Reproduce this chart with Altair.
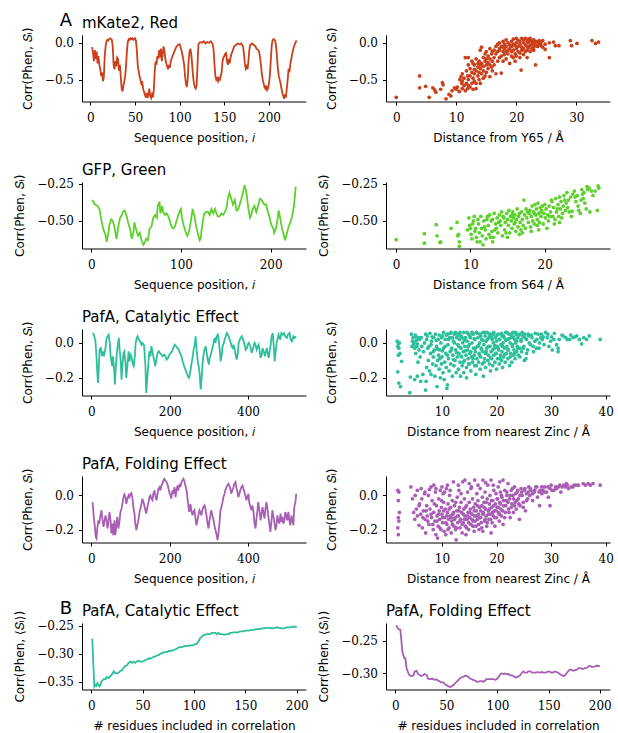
import altair as alt
import pandas as pd

# ---------------- data ----------------
mkate_seq = [(2,-0.06),(3,-0.15),(4,-0.25),(5,-0.10),(6,-0.22),(7,-0.12),(8,-0.28),(9,-0.18),(10,-0.30),(11,-0.35),(12,-0.45),(13,-0.40),(14,-0.52),(15,-0.48),(16,-0.20),(17,-0.05),(18,0.02),(19,0.04),(20,0.03),(21,0.05),(22,0.06),(23,0.05),(24,0.04),(25,-0.05),(26,-0.30),(27,-0.36),(28,-0.25),(29,-0.32),(30,-0.20),(31,-0.22),(32,-0.38),(33,-0.30),(34,-0.45),(35,-0.62),(36,-0.66),(37,-0.58),(38,-0.52),(39,-0.45),(40,-0.30),(41,-0.10),(42,0.02),(43,0.05),(44,0.04),(45,0.06),(46,0.05),(47,0.06),(48,0.04),(49,0.05),(50,0.06),(51,0.03),(52,-0.10),(53,-0.30),(54,-0.38),(55,-0.45),(56,-0.50),(57,-0.55),(58,-0.52),(59,-0.62),(60,-0.66),(61,-0.70),(62,-0.74),(63,-0.68),(64,-0.75),(65,-0.70),(66,-0.62),(67,-0.72),(68,-0.75),(69,-0.70),(70,-0.74),(71,-0.65),(72,-0.40),(73,-0.25),(74,-0.30),(75,-0.18),(76,-0.22),(77,-0.10),(78,-0.20),(79,-0.08),(80,-0.25),(81,-0.15),(82,-0.05),(83,-0.12),(84,-0.22),(85,-0.28),(86,-0.32),(87,-0.36),(88,-0.30),(89,-0.34),(90,-0.25),(92,-0.18),(94,-0.12),(96,-0.06),(98,-0.03),(100,-0.02),(102,-0.10),(104,-0.22),(105,-0.30),(106,-0.45),(107,-0.55),(108,-0.60),(109,-0.50),(110,-0.25),(111,-0.12),(112,-0.08),(113,-0.15),(114,-0.30),(115,-0.45),(116,-0.55),(117,-0.60),(118,-0.62),(119,-0.58),(120,-0.30),(121,-0.02),(123,0.01),(125,0.00),(127,0.02),(129,-0.01),(131,0.01),(133,0.00),(135,0.02),(137,-0.02),(138,-0.10),(139,-0.30),(140,-0.45),(141,-0.50),(142,-0.48),(143,-0.52),(144,-0.48),(145,-0.50),(146,-0.45),(147,-0.40),(148,-0.25),(149,-0.20),(150,-0.18),(151,-0.15),(152,-0.14),(153,-0.25),(154,-0.30),(155,-0.22),(156,-0.28),(157,-0.20),(158,-0.15),(159,-0.12),(161,-0.05),(163,-0.03),(165,-0.01),(167,-0.02),(169,-0.01),(171,-0.05),(172,-0.15),(173,-0.28),(174,-0.35),(175,-0.32),(176,-0.36),(177,-0.25),(178,-0.10),(179,-0.03),(181,-0.01),(183,-0.03),(185,-0.05),(186,-0.08),(188,-0.10),(189,-0.12),(190,-0.20),(191,-0.30),(192,-0.42),(193,-0.50),(194,-0.55),(195,-0.60),(196,-0.62),(197,-0.58),(198,-0.64),(199,-0.62),(200,-0.55),(201,-0.45),(202,-0.25),(203,-0.05),(204,0.03),(205,0.05),(206,0.04),(207,0.03),(208,-0.05),(209,-0.20),(210,-0.35),(211,-0.45),(212,-0.50),(213,-0.55),(214,-0.62),(215,-0.68),(216,-0.72),(217,-0.76),(218,-0.70),(219,-0.74),(220,-0.62),(221,-0.50),(222,-0.35),(223,-0.40),(224,-0.28),(225,-0.22),(226,-0.15),(227,-0.10),(228,-0.05),(229,-0.02),(230,0.01),(231,0.03)]

mkate_dist = [(0,-0.74),(3.9,-0.45),(3.9,-0.61),(4.9,-0.59),(5.5,-0.74),(6.1,-0.61),(6.4,-0.64),(6.6,-0.67),(7.4,-0.63),(7.7,-0.54),(7.8,-0.57),(8.3,-0.76),(8.8,-0.70),(9.1,-0.72),(9.3,-0.65),(9.7,-0.61),(10.0,-0.63),(10.2,-0.60),(10.5,-0.66),(10.6,-0.50),(10.8,-0.46),(10.9,-0.55),(11.0,-0.42),(11.0,-0.62),(11.0,-0.52),(11.3,-0.58),(11.3,-0.48),(11.5,-0.20),(11.5,-0.65),(11.7,-0.55),(11.7,-0.38),(11.9,-0.62),(11.9,-0.45),(12.0,-0.20),(12.0,-0.30),(12.0,-0.50),(12.0,-0.58),(12.3,-0.35),(12.3,-0.45),(12.3,-0.60),(12.6,-0.25),(12.6,-0.55),(12.6,-0.40),(12.8,-0.28),(12.8,-0.48),(12.8,-0.63),(13.0,-0.30),(13.0,-0.42),(13.0,-0.52),(13.0,-0.36),(13.3,-0.22),(13.3,-0.38),(13.3,-0.55),(13.3,-0.62),(13.6,-0.28),(13.6,-0.45),(13.6,-0.33),(13.8,-0.25),(13.8,-0.50),(13.8,-0.40),(14.0,-0.10),(14.0,-0.35),(14.0,-0.55),(14.0,-0.30),(14.2,-0.06),(14.2,-0.28),(14.2,-0.42),(14.5,-0.20),(14.5,-0.32),(14.5,-0.48),(14.5,-0.38),(14.8,-0.15),(14.8,-0.25),(14.8,-0.45),(15.0,-0.12),(15.0,-0.30),(15.0,-0.40),(15.0,-0.22),(15.3,-0.18),(15.3,-0.35),(15.3,-0.27),(15.6,-0.08),(15.6,-0.22),(15.6,-0.46),(15.6,-0.30),(15.9,-0.15),(15.9,-0.33),(16.0,-0.12),(16.0,-0.25),(16.0,-0.38),(16.3,-0.20),(16.3,-0.10),(16.3,-0.30),(16.6,-0.05),(16.6,-0.15),(16.6,-0.42),(16.9,-0.02),(16.9,-0.25),(16.9,-0.12),(17.2,0.00),(17.2,-0.10),(17.2,-0.20),(17.2,-0.08),(17.5,-0.05),(17.5,-0.18),(17.5,-0.41),(17.8,0.02),(17.8,-0.12),(17.8,-0.25),(17.8,-0.06),(18.0,-0.02),(18.0,-0.08),(18.0,-0.16),(18.3,0.04),(18.3,-0.05),(18.3,-0.22),(18.3,-0.12),(18.6,0.00),(18.6,-0.10),(18.6,-0.15),(18.9,-0.03),(18.9,-0.08),(18.9,-0.28),(19.2,0.02),(19.2,-0.05),(19.2,-0.18),(19.2,-0.12),(19.5,0.05),(19.5,-0.02),(19.5,-0.10),(19.5,-0.20),(19.8,-0.04),(19.8,-0.15),(19.8,-0.25),(20.0,0.06),(20.0,0.00),(20.0,-0.08),(20.0,-0.18),(20.3,0.03),(20.3,-0.05),(20.3,-0.12),(20.6,0.02),(20.6,-0.02),(20.6,-0.14),(20.6,-0.20),(20.8,-0.37),(20.9,0.06),(20.9,-0.06),(20.9,-0.10),(21.2,0.04),(21.2,0.00),(21.2,-0.08),(21.2,-0.16),(21.5,0.06),(21.5,-0.03),(21.5,-0.12),(21.8,0.02),(21.8,-0.05),(21.8,-0.10),(21.8,-0.20),(22.0,0.05),(22.0,0.00),(22.0,-0.07),(22.3,0.06),(22.3,0.03),(22.3,-0.04),(22.3,-0.12),(22.6,0.02),(22.6,-0.02),(22.6,-0.08),(22.9,0.04),(22.9,0.00),(22.9,-0.06),(22.9,-0.10),(23.2,0.02),(23.2,-0.03),(23.2,-0.30),(23.5,0.01),(23.5,-0.05),(23.8,0.03),(23.8,-0.02),(24.1,-0.04),(24.1,0.00),(24.4,0.03),(24.4,-0.06),(24.8,-0.02),(24.8,-0.09),(25.5,-0.20),(25.5,0.00),(26.2,0.01),(26.5,-0.04),(27.1,-0.04),(29.0,0.03),(29.2,-0.04),(30.1,-0.01),(32.6,0.03),(33.2,-0.01),(33.7,0.01)]

gfp_seq = [(1,-0.36),(4,-0.39),(7,-0.40),(9,-0.42),(11,-0.49),(13,-0.55),(16,-0.60),(17,-0.64),(19,-0.58),(20,-0.53),(22,-0.49),(24,-0.50),(26,-0.55),(28,-0.62),(30,-0.54),(32,-0.48),(34,-0.46),(35,-0.44),(37,-0.43),(39,-0.46),(41,-0.51),(43,-0.55),(45,-0.62),(47,-0.57),(48,-0.51),(50,-0.56),(52,-0.60),(54,-0.58),(56,-0.63),(58,-0.66),(60,-0.64),(61,-0.62),(63,-0.63),(65,-0.55),(67,-0.54),(69,-0.48),(71,-0.46),(73,-0.48),(74,-0.40),(76,-0.37),(77,-0.45),(79,-0.40),(80,-0.44),(82,-0.46),(84,-0.45),(86,-0.47),(87,-0.49),(89,-0.53),(91,-0.55),(93,-0.54),(95,-0.50),(97,-0.46),(99,-0.43),(100,-0.42),(101,-0.48),(103,-0.53),(105,-0.57),(107,-0.60),(109,-0.57),(111,-0.50),(112,-0.46),(113,-0.42),(115,-0.47),(117,-0.54),(119,-0.59),(121,-0.63),(122,-0.62),(123,-0.56),(125,-0.48),(126,-0.45),(128,-0.44),(130,-0.44),(132,-0.46),(134,-0.42),(136,-0.45),(138,-0.42),(139,-0.44),(141,-0.47),(143,-0.47),(145,-0.45),(147,-0.46),(149,-0.44),(151,-0.41),(152,-0.36),(154,-0.31),(156,-0.35),(158,-0.39),(160,-0.36),(162,-0.43),(164,-0.42),(165,-0.40),(167,-0.36),(169,-0.31),(171,-0.26),(173,-0.31),(175,-0.41),(177,-0.48),(178,-0.47),(180,-0.42),(182,-0.40),(184,-0.44),(186,-0.40),(188,-0.35),(190,-0.36),(191,-0.37),(193,-0.39),(195,-0.39),(197,-0.44),(199,-0.48),(201,-0.53),(203,-0.55),(204,-0.58),(206,-0.55),(208,-0.48),(209,-0.43),(211,-0.49),(213,-0.56),(215,-0.60),(216,-0.63),(218,-0.59),(220,-0.54),(222,-0.51),(223,-0.49),(224,-0.47),(226,-0.40),(227,-0.34),(228,-0.27)]

gfp_dist = [(0,-0.626),(3.8,-0.586),(3.8,-0.649),(5.4,-0.525),(5.5,-0.60),(5.9,-0.645),(6.0,-0.64),(7.4,-0.55),(8.2,-0.51),(8.3,-0.60),(8.4,-0.59),(8.5,-0.64),(8.5,-0.67),(9.8,-0.48),(9.9,-0.53),(10.0,-0.55),(10.1,-0.59),(10.2,-0.62),(10.4,-0.50),(10.5,-0.47),(10.6,-0.57),(10.8,-0.61),(10.9,-0.64),(11.0,-0.49),(11.1,-0.52),(11.2,-0.58),(11.3,-0.64),(11.5,-0.55),(11.6,-0.60),(11.8,-0.50),(12.0,-0.56),(12.1,-0.62),(12.3,-0.47),(12.4,-0.53),(12.5,-0.59),(12.6,-0.46),(12.8,-0.50),(12.9,-0.57),(13.0,-0.49),(13.1,-0.61),(13.2,-0.45),(13.4,-0.52),(13.5,-0.55),(13.6,-0.48),(13.7,-0.58),(13.9,-0.46),(14.0,-0.50),(14.1,-0.53),(14.2,-0.44),(14.3,-0.60),(14.5,-0.48),(14.6,-0.56),(14.7,-0.51),(14.9,-0.45),(15.0,-0.49),(15.1,-0.53),(15.2,-0.43),(15.3,-0.58),(15.4,-0.47),(15.5,-0.50),(15.6,-0.55),(15.7,-0.44),(15.8,-0.48),(15.9,-0.52),(16.0,-0.46),(16.1,-0.57),(16.2,-0.49),(16.3,-0.42),(16.4,-0.54),(16.5,-0.47),(16.6,-0.45),(16.7,-0.51),(16.8,-0.56),(16.9,-0.44),(17.0,-0.49),(17.1,-0.53),(17.2,-0.36),(17.3,-0.46),(17.4,-0.55),(17.5,-0.42),(17.6,-0.48),(17.8,-0.51),(17.9,-0.45),(18.0,-0.43),(18.1,-0.54),(18.2,-0.47),(18.3,-0.40),(18.4,-0.50),(18.5,-0.44),(18.6,-0.52),(18.7,-0.39),(18.8,-0.46),(18.9,-0.42),(19.0,-0.49),(19.1,-0.38),(19.2,-0.45),(19.3,-0.51),(19.4,-0.41),(19.5,-0.47),(19.6,-0.43),(19.7,-0.40),(19.8,-0.52),(19.9,-0.45),(20.0,-0.39),(20.1,-0.48),(20.2,-0.42),(20.4,-0.46),(20.5,-0.50),(20.6,-0.40),(20.8,-0.44),(21.0,-0.37),(21.1,-0.47),(21.2,-0.41),(21.4,-0.49),(21.5,-0.35),(21.6,-0.44),(21.8,-0.39),(21.9,-0.47),(22.0,-0.34),(22.1,-0.42),(22.2,-0.37),(22.4,-0.45),(22.5,-0.40),(22.6,-0.33),(22.8,-0.43),(22.9,-0.38),(23.0,-0.31),(23.2,-0.36),(23.3,-0.44),(23.5,-0.34),(23.7,-0.435),(23.8,-0.32),(24.0,-0.30),(24.2,-0.37),(24.4,-0.33),(24.6,-0.43),(24.8,-0.45),(24.9,-0.36),(25.0,-0.29),(25.1,-0.32),(25.2,-0.35),(25.4,-0.38),(25.7,-0.27),(25.8,-0.29),(26.1,-0.44),(26.3,-0.30),(26.5,-0.33),(27.1,-0.43),(27.2,-0.265),(27.3,-0.28),
            (10.3,-0.52),(10.7,-0.55),(11.4,-0.47),(11.9,-0.54),(12.2,-0.49),(12.7,-0.61),(13.3,-0.56),(13.8,-0.51),(14.4,-0.47),(14.8,-0.58),(15.6,-0.46),(16.0,-0.51),(16.6,-0.59),(17.7,-0.44),(18.2,-0.57),(18.6,-0.45),(19.0,-0.53),(19.5,-0.44),(20.3,-0.55),(20.7,-0.47),(21.3,-0.52),(21.7,-0.42),(22.3,-0.48),(22.7,-0.36),(23.1,-0.41),(23.6,-0.47),(24.1,-0.34),(24.5,-0.40),(25.3,-0.31),(25.6,-0.42),(26.0,-0.28),(26.8,-0.30),(22.0,-0.51),(20.9,-0.36),(19.2,-0.56),(17.0,-0.58),(15.0,-0.61),(13.0,-0.64),(11.7,-0.66),(9.6,-0.56)]

pafa_cat_seq = [(3,0.057),(6,0.048),(10,0.019),(13,-0.076),(15,-0.171),(17,-0.229),(19,-0.133),(21,-0.038),(24,-0.029),(27,-0.076),(30,-0.048),(32,-0.076),(36,-0.029),(38,0.019),(41,0.038),(44,0.048),(47,0.0),(49,-0.076),(53,-0.133),(55,-0.076),(58,-0.152),(60,-0.238),(62,-0.152),(65,-0.057),(67,-0.019),(70,0.029),(72,-0.038),(75,-0.105),(77,-0.21),(79,-0.133),(82,-0.057),(84,-0.048),(87,-0.114),(89,-0.2),(92,-0.124),(95,-0.048),(97,-0.105),(100,-0.067),(102,-0.076),(106,-0.124),(108,-0.133),(111,-0.076),(113,0.0),(116,0.029),(118,0.038),(121,0.019),(124,0.01),(128,-0.01),(130,0.0),(134,-0.01),(135,-0.029),(138,-0.133),(140,-0.286),(143,-0.19),(146,-0.105),(148,-0.048),(151,-0.076),(153,-0.019),(156,-0.048),(158,-0.076),(161,-0.105),(163,-0.133),(166,-0.095),(169,-0.057),(172,-0.048),(175,-0.057),(179,-0.067),(182,-0.076),(186,-0.067),(189,-0.076),(192,-0.095),(196,-0.086),(199,-0.067),(203,-0.057),(206,-0.048),(209,-0.029),(213,-0.01),(216,-0.019),(220,-0.029),(223,-0.038),(226,-0.057),(230,-0.076),(233,-0.105),(237,-0.133),(240,-0.152),(243,-0.171),(246,-0.19),(249,-0.2),(251,-0.181),(254,-0.143),(256,-0.114),(259,-0.076),(261,-0.038),(264,-0.01),(266,0.038),(269,-0.048),(272,-0.114),(274,-0.133),(277,-0.19),(279,-0.267),(282,-0.19),(284,-0.114),(287,-0.057),(289,-0.038),(292,-0.019),(295,-0.067),(297,-0.095),(300,-0.124),(302,-0.086),(305,-0.067),(307,-0.048),(310,-0.019),(312,0.0),(315,0.029),(317,0.0),(320,0.038),(323,0.048),(325,0.019),(328,-0.048),(330,-0.105),(333,-0.067),(335,-0.019),(338,0.0),(340,0.019),(343,0.038),(346,0.057),(348,0.048),(351,0.038),(353,0.019),(356,0.0),(358,-0.019),(361,-0.029),(363,-0.01),(366,-0.038),(369,-0.076),(371,-0.095),(374,-0.057),(376,0.0),(379,0.019),(381,0.029),(384,0.038),(386,0.029),(389,0.01),(392,-0.019),(394,-0.038),(397,-0.029),(399,-0.01),(402,0.0),(404,-0.01),(407,-0.029),(409,-0.057),(412,-0.038),(415,-0.01),(417,0.0),(420,-0.019),(422,-0.038),(425,-0.019),(427,-0.01),(430,-0.048),(432,-0.086),(435,-0.067),(437,-0.029),(440,-0.048),(443,-0.076),(445,-0.057),(448,-0.029),(450,-0.057),(453,-0.086),(455,-0.048),(458,-0.01),(460,0.038),(463,0.057),(466,-0.029),(468,-0.105),(471,-0.038),(473,0.0),(476,0.029),(478,0.048),(482,0.019),(485,0.057),(489,0.048),(492,0.057),(495,0.038),(499,0.029),(502,0.048),(506,0.057),(509,0.019),(512,0.01),(516,0.038),(519,0.029),(523,0.038)]

pafa_cat_dist = [(1.8,0.01),(2.0,-0.005),(2.2,0.0),(1.9,-0.02),(2.1,-0.03),(2.3,-0.06),(2.0,-0.07),(2.6,-0.105),(1.9,-0.165),(2.1,-0.23),(2.4,-0.25),(4.1,-0.285),(4.2,-0.195),(4.6,0.01),(4.8,-0.01),(5.0,-0.03),(5.2,0.035),(5.4,-0.02),(5.2,-0.06),(5.6,-0.11),(5.8,-0.04),(5.9,0.02),(5.0,-0.21),(5.5,-0.19),(6.0,-0.08),(6.2,0.03),(6.3,-0.02),(6.1,-0.22),(6.5,-0.18),(6.6,-0.05),(6.8,0.0),(7.0,-0.27),(7.1,-0.22),(7.2,-0.14),(7.3,0.04),(7.5,-0.10),(7.6,-0.02),(7.7,-0.16),(7.9,-0.06),(8.0,-0.18),(8.1,0.01),(8.3,-0.12),(8.4,-0.08),(8.5,0.03),(8.6,-0.04),(8.7,-0.19),(8.9,-0.13),(9.0,-0.02),(9.1,-0.25),(9.2,-0.10),(9.3,0.02),(9.4,-0.07),(9.5,-0.15),(9.6,-0.04),(9.8,0.0),(9.9,-0.12),(9.7,-0.20),(10.0,-0.08),(10.1,0.04),(10.2,-0.17),(10.3,-0.03),(10.4,-0.21),(10.5,-0.11),(10.6,0.02),(10.7,-0.06),(10.8,-0.14),(10.9,-0.26),(11.0,-0.24),(11.0,0.05),(11.1,-0.01),(11.2,-0.09),(11.3,-0.16),(11.4,0.03),(11.5,-0.05),(11.6,-0.12),(11.7,0.06),(11.8,-0.03),(11.9,-0.19),(12.0,-0.07),(12.1,0.01),(12.2,-0.13),(12.3,0.05),(12.4,-0.10),(12.5,-0.04),(12.6,-0.17),(12.7,0.03),(12.8,-0.08),(12.9,-0.01),(13.0,0.05),(13.0,-0.15),(13.1,-0.06),(13.2,0.02),(13.3,-0.11),(13.4,-0.19),(13.5,-0.03),(13.5,0.04),(13.6,-0.08),(13.7,-0.13),(13.8,0.0),(13.9,-0.05),(14.0,-0.17),(14.0,0.06),(14.1,-0.10),(14.2,-0.02),(14.3,0.03),(14.4,-0.07),(14.5,-0.14),(14.5,-0.20),(14.6,0.01),(14.7,-0.04),(14.8,-0.09),(14.9,0.05),(15.0,-0.12),(15.0,-0.01),(15.1,-0.06),(15.2,0.03),(15.3,-0.16),(15.4,-0.08),(15.5,0.0),(15.6,-0.11),(15.7,0.05),(15.8,-0.03),(15.9,-0.07),(16.0,-0.13),(16.0,0.02),(16.1,-0.05),(16.2,-0.18),(16.3,0.06),(16.4,-0.09),(16.5,-0.02),(16.6,0.03),(16.7,-0.11),(16.8,-0.06),(16.9,0.0),(17.0,0.05),(17.0,-0.15),(17.1,-0.08),(17.2,-0.03),(17.3,0.02),(17.4,-0.12),(17.5,0.06),(17.5,-0.05),(17.6,-0.19),(17.7,-0.01),(17.8,-0.09),(17.9,0.04),(18.0,-0.14),(18.0,-0.06),(18.1,0.01),(18.2,-0.03),(18.3,0.06),(18.4,-0.10),(18.5,-0.07),(18.6,0.03),(18.7,-0.12),(18.8,-0.02),(18.9,-0.16),(18.9,0.05),(19.0,-0.05),(19.1,-0.09),(19.2,0.02),(19.3,-0.13),(19.4,0.0),(19.5,0.05),(19.5,-0.07),(19.6,-0.03),(19.7,-0.11),(19.8,0.03),(19.9,-0.06),(20.0,-0.15),(20.0,0.01),(20.1,-0.02),(20.2,-0.09),(20.3,0.05),(20.4,-0.04),(20.5,-0.12),(20.6,0.02),(20.7,-0.07),(20.8,-0.01),(20.9,-0.10),(21.0,0.04),(21.0,-0.05),(21.1,-0.14),(21.2,0.0),(21.3,-0.08),(21.4,0.03),(21.5,-0.03),(21.6,-0.11),(21.7,0.06),(21.8,-0.06),(21.9,-0.02),(22.0,0.02),(22.1,-0.09),(22.2,-0.04),(22.3,0.05),(22.4,-0.13),(22.5,0.0),(22.6,-0.06),(22.7,0.03),(22.8,-0.11),(22.9,-0.02),(23.0,0.06),(23.1,-0.07),(23.2,-0.04),(23.3,0.02),(23.4,-0.09),(23.5,0.0),(23.6,0.05),(23.7,-0.05),(23.8,-0.02),(23.9,0.03),(24.0,-0.07),(24.2,0.05),(24.3,-0.03),(24.5,0.01),(24.6,-0.05),(24.8,0.04),(25.0,-0.02),(25.1,-0.10),(25.2,0.05),(25.4,-0.09),(25.5,0.02),(25.7,-0.04),(25.9,0.04),(26.2,-0.01),(26.5,0.03),(26.8,-0.05),(27.0,0.01),(27.3,-0.03),(27.6,0.05),(27.9,0.0),(28.1,0.03),(28.4,0.02),(28.7,-0.01),(29.0,0.06),(29.3,0.03),(29.6,-0.02),(29.9,0.01),(30.2,-0.04),(30.5,0.02),(31.0,-0.01),(31.3,-0.05),(31.3,-0.03),(31.5,0.02),(32.2,0.04),(32.7,0.03),(33.0,0.02),(33.4,0.02),(34.0,0.03),(34.7,0.04),(35.2,0.02),(35.6,-0.005),(36.5,0.02),(37.0,0.04),(39.0,0.02),
                 (4.4,0.05),(4.7,0.03),(4.9,0.0),(5.1,0.045),(5.3,0.015),(5.5,-0.005),(5.7,0.03),(4.5,-0.02),(7.0,0.05),(7.2,0.02),(7.4,-0.03),(7.8,0.055),(8.0,-0.01),(8.2,0.035),(8.4,-0.05),(8.8,0.05),(9.0,0.015),(9.2,-0.035),(9.5,0.045),(9.6,-0.09),(9.9,0.03),(10.1,-0.045),(10.3,0.06),(10.6,-0.02),(10.8,0.045),(11.0,-0.07),(11.2,0.02),(11.5,0.055),(11.7,-0.04),(11.9,0.03),(12.1,-0.095),(12.3,0.0),(12.5,0.06),(12.7,-0.055),(12.9,0.04),(13.1,-0.02),(13.3,0.06),(13.5,-0.075),(13.7,0.03),(13.9,-0.11),(14.1,0.015),(14.3,-0.045),(14.6,0.06),(14.8,-0.02),(14.9,-0.12),(15.1,0.04),(15.3,-0.05),(15.5,0.06),(15.7,-0.09),(15.9,0.025),(16.1,-0.03),(16.3,-0.13),(16.5,0.055),(16.7,-0.015),(16.9,-0.07),(17.1,0.04),(17.3,-0.04),(17.5,0.015),(17.7,-0.11),(17.9,0.06),(18.1,-0.05),(18.3,0.02),(18.5,-0.02),(18.7,0.05),(18.9,-0.085),(19.1,0.035),(19.3,-0.04),(19.5,0.06),(19.7,-0.015),(19.9,-0.06),(20.1,0.045),(20.3,-0.03),(20.5,0.02),(20.7,-0.09),(20.9,0.055),(21.1,-0.02),(21.3,0.04),(21.5,-0.065),(21.7,0.015),(21.9,0.06),(22.1,-0.04),(22.3,0.025),(22.5,-0.08),(22.7,0.05),(22.9,-0.01),(23.1,0.035),(23.3,-0.06),(23.5,0.06),(23.7,0.01),(23.9,-0.03),(24.1,0.045),(24.3,-0.08),(24.5,0.02),(24.7,0.06),(24.9,-0.03),(25.2,0.03),(25.5,-0.06),(25.8,0.05),(26.0,0.0),(26.4,0.045),(26.7,-0.02),(27.1,0.055),(27.4,0.02),(27.8,-0.03),(28.2,0.05),(28.6,0.035),(29.4,0.05),(30.1,0.035),(30.6,0.055),(32.0,0.045),(33.6,0.045),(34.4,0.035),(36.0,0.03)]

pafa_fold_seq = [(3,-0.039),(6,-0.126),(9,-0.184),(11,-0.243),(13,-0.252),(15,-0.194),(18,-0.146),(20,-0.165),(23,-0.117),(26,-0.087),(28,-0.136),(31,-0.184),(33,-0.155),(36,-0.117),(38,-0.136),(41,-0.194),(43,-0.165),(46,-0.097),(49,-0.146),(51,-0.223),(54,-0.165),(56,-0.233),(59,-0.146),(61,-0.233),(64,-0.175),(66,-0.126),(69,-0.194),(72,-0.146),(74,-0.097),(77,-0.078),(79,-0.049),(82,-0.01),(84,0.006),(87,-0.01),(89,-0.049),(92,-0.019),(95,0.0),(97,-0.01),(100,0.01),(102,0.014),(105,-0.019),(107,-0.068),(110,-0.107),(112,-0.165),(115,-0.204),(117,-0.175),(120,-0.146),(123,-0.097),(125,-0.078),(128,-0.049),(130,-0.019),(133,-0.039),(135,-0.058),(138,-0.087),(140,-0.107),(143,-0.068),(146,-0.039),(148,-0.01),(151,0.0),(153,-0.019),(156,-0.029),(158,0.01),(161,0.029),(163,0.0),(166,-0.029),(169,0.01),(171,0.039),(174,0.049),(176,0.029),(179,0.058),(181,0.068),(184,0.087),(186,0.097),(189,0.087),(192,0.078),(194,0.068),(197,0.039),(199,0.019),(202,0.0),(204,-0.019),(207,0.029),(209,0.01),(212,0.049),(215,-0.01),(217,0.029),(220,0.058),(222,0.029),(225,0.068),(227,0.049),(230,0.078),(232,0.087),(235,0.097),(237,0.087),(240,0.058),(243,0.029),(245,-0.01),(248,-0.068),(250,-0.097),(253,-0.049),(255,-0.087),(258,-0.117),(260,-0.097),(263,-0.087),(266,-0.136),(268,-0.175),(271,-0.146),(273,-0.117),(276,-0.087),(278,-0.097),(281,-0.117),(283,-0.087),(286,-0.068),(289,-0.058),(291,-0.078),(294,-0.117),(296,-0.155),(299,-0.194),(301,-0.155),(304,-0.117),(306,-0.087),(309,-0.117),(312,-0.146),(314,-0.175),(317,-0.204),(319,-0.223),(322,-0.262),(324,-0.233),(327,-0.165),(329,-0.097),(332,-0.068),(335,-0.039),(337,-0.01),(340,0.01),(342,0.029),(345,0.049),(347,0.058),(350,0.068),(352,0.058),(355,0.039),(357,0.01),(360,0.029),(363,0.049),(365,0.068),(368,0.078),(370,0.049),(373,0.019),(375,-0.01),(378,0.01),(380,0.029),(383,0.049),(386,0.058),(388,0.039),(391,0.019),(393,0.0),(396,-0.029),(398,-0.01),(401,0.01),(403,-0.039),(406,-0.068),(409,-0.087),(411,-0.058),(414,-0.097),(416,-0.155),(419,-0.194),(421,-0.146),(424,-0.087),(426,-0.039),(429,-0.087),(432,-0.146),(434,-0.117),(437,-0.068),(439,-0.097),(442,-0.136),(444,-0.087),(447,-0.039),(449,-0.068),(452,-0.126),(455,-0.175),(457,-0.214),(460,-0.146),(462,-0.087),(465,-0.126),(467,-0.155),(470,-0.204),(472,-0.184),(475,-0.117),(477,-0.146),(480,-0.165),(483,-0.107),(485,-0.155),(488,-0.126),(490,-0.165),(493,-0.146),(495,-0.097),(498,-0.117),(500,-0.146),(503,-0.097),(506,-0.155),(508,-0.175),(511,-0.117),(513,-0.146),(516,-0.175),(518,-0.068),(521,-0.039),(523,0.01)]

pafa_fold_dist = [(1.9,0.03),(2.1,0.02),(2.0,-0.03),(2.2,-0.1),(2.0,-0.13),(2.1,-0.15),(1.9,-0.19),(2.0,-0.23),(4.3,0.05),(4.6,-0.02),(4.8,-0.10),(5.0,-0.14),(5.1,0.0),(5.3,-0.08),(5.5,-0.12),(5.8,-0.175),(5.9,-0.05),(6.1,-0.11),(6.3,-0.02),(6.4,-0.19),(6.6,-0.09),(6.8,0.01),(6.9,-0.14),(7.0,-0.22),(7.2,-0.06),(7.3,-0.12),(7.5,0.0),(7.6,-0.17),(7.8,-0.08),(8.0,0.05),(8.1,-0.13),(8.2,-0.03),(8.4,-0.20),(8.5,-0.10),(8.7,-0.15),(8.8,0.02),(8.9,-0.23),(9.0,-0.06),(9.1,-0.12),(9.2,-0.25),(9.3,-0.18),(9.4,-0.02),(9.5,-0.09),(9.6,-0.14),(9.7,0.03),(9.8,-0.20),(9.9,-0.07),(10.0,-0.11),(10.1,-0.16),(10.2,0.01),(10.3,-0.04),(10.4,-0.21),(10.5,-0.13),(10.6,-0.08),(10.7,-0.23),(10.8,0.04),(10.9,-0.17),(11.0,-0.10),(11.1,-0.05),(11.2,-0.14),(11.3,-0.19),(11.4,0.0),(11.5,-0.12),(11.6,-0.07),(11.7,-0.22),(11.8,-0.15),(11.9,-0.03),(12.0,-0.11),(12.1,0.08),(12.2,-0.18),(12.3,-0.06),(12.4,-0.13),(12.5,-0.20),(12.6,-0.26),(12.7,-0.09),(12.8,-0.01),(12.9,-0.16),(13.0,-0.12),(13.1,0.03),(13.2,-0.07),(13.3,-0.19),(13.4,-0.14),(13.5,-0.04),(13.6,-0.10),(13.7,-0.22),(13.8,0.08),(13.9,-0.16),(14.0,-0.08),(14.1,-0.02),(14.2,-0.12),(14.3,-0.18),(14.4,-0.23),(14.5,-0.06),(14.6,-0.14),(14.7,0.02),(14.8,-0.10),(14.9,-0.20),(15.0,-0.04),(15.1,-0.13),(15.2,-0.08),(15.3,-0.17),(15.4,0.05),(15.5,-0.11),(15.6,-0.02),(15.7,-0.15),(15.8,-0.07),(15.9,-0.21),(16.0,0.09),(16.0,-0.12),(16.1,-0.05),(16.2,-0.18),(16.3,-0.09),(16.4,0.01),(16.5,-0.14),(16.6,-0.03),(16.7,-0.11),(16.8,-0.20),(16.9,-0.07),(17.0,0.04),(17.1,-0.13),(17.2,-0.16),(17.3,-0.06),(17.4,-0.01),(17.5,0.09),(17.5,-0.21),(17.6,-0.10),(17.7,-0.04),(17.8,-0.15),(17.9,0.02),(18.0,-0.08),(18.1,-0.12),(18.2,-0.18),(18.3,-0.02),(18.4,0.06),(18.5,-0.09),(18.6,-0.14),(18.7,-0.05),(18.8,0.0),(18.9,-0.11),(19.0,0.09),(19.0,-0.22),(19.1,-0.07),(19.2,-0.16),(19.3,-0.03),(19.4,-0.12),(19.5,0.03),(19.6,-0.09),(19.7,-0.18),(19.8,-0.05),(19.9,0.01),(20.0,-0.13),(20.1,-0.07),(20.2,-0.02),(20.3,0.05),(20.4,-0.10),(20.5,-0.15),(20.6,-0.04),(20.7,0.02),(20.8,-0.08),(20.9,-0.12),(21.0,-0.01),(21.2,0.09),(21.2,-0.17),(21.3,-0.06),(21.5,0.03),(21.6,-0.10),(21.8,-0.03),(21.9,0.0),(22.1,0.07),(22.2,-0.08),(22.4,-0.02),(22.5,-0.13),(22.7,0.03),(22.8,-0.05),(23.0,0.0),(23.1,-0.10),(23.3,0.05),(23.4,-0.04),(23.6,-0.08),(23.8,0.02),(24.0,-0.02),(24.2,-0.14),(24.3,-0.06),(24.5,0.04),(24.7,0.0),(24.9,-0.04),(25.1,0.03),(25.3,-0.09),(25.5,0.01),(25.7,-0.02),(25.9,0.05),(26.1,0.0),(26.3,0.03),(26.6,-0.03),(26.9,0.02),(27.2,0.05),(27.5,-0.01),(27.9,-0.06),(28.0,0.03),(28.3,0.01),(28.5,0.03),(28.8,0.05),(29.2,0.02),(29.5,-0.01),(29.8,0.04),(29.8,-0.06),(30.2,0.03),(30.8,0.05),(31.3,0.05),(31.8,0.02),(32.3,0.06),(32.8,0.07),(33.2,0.04),(33.7,0.05),(34.2,0.06),(35.0,0.06),(35.9,0.07),(36.8,0.07),(37.7,0.07),(39.0,0.06),
                  (5.5,0.03),(5.8,-0.06),(6.2,0.04),(6.5,-0.13),(6.9,0.02),(7.1,-0.09),(7.4,-0.15),(7.7,0.035),(8.0,-0.11),(8.3,-0.17),(8.6,-0.05),(8.9,0.04),(9.1,-0.15),(9.4,-0.11),(9.6,-0.19),(9.9,-0.03),(10.1,-0.13),(10.3,-0.09),(10.5,0.02),(10.7,-0.16),(10.9,-0.12),(11.1,-0.2),(11.3,-0.08),(11.5,0.03),(11.7,-0.13),(11.9,-0.17),(12.1,-0.1),(12.3,-0.14),(12.5,-0.04),(12.7,-0.19),(12.9,-0.12),(13.1,-0.09),(13.3,-0.15),(13.5,0.01),(13.7,-0.17),(13.9,-0.11),(14.1,-0.14),(14.3,-0.07),(14.5,-0.19),(14.7,-0.12),(14.9,-0.16),(15.1,-0.1),(15.3,0.04),(15.5,-0.14),(15.7,-0.18),(15.9,-0.09),(16.1,-0.15),(16.3,-0.12),(16.5,-0.06),(16.7,-0.17),(16.9,-0.13),(17.1,-0.09),(17.3,-0.19),(17.5,-0.11),(17.7,-0.07),(17.9,-0.14),(18.1,-0.04),(18.3,-0.16),(18.5,-0.11),(18.7,-0.08),(18.9,-0.14),(19.1,-0.03),(19.3,-0.1),(19.5,-0.06),(19.7,-0.13),(19.9,-0.09),(20.1,-0.02),(20.3,-0.07),(20.5,-0.11),(20.7,-0.05),(20.9,0.0),(21.1,-0.09),(21.3,-0.03),(21.5,-0.13),(21.7,-0.06),(21.9,0.02),(22.1,-0.04),(22.3,-0.1),(22.5,0.0),(22.7,-0.07),(22.9,0.04),(23.1,-0.02),(23.3,-0.06),(23.5,0.01),(23.7,-0.03),(23.9,0.03),(24.1,-0.05),(24.3,0.0),(24.6,0.02),(24.9,-0.07),(25.2,0.04),(25.5,-0.03),(25.8,0.02),(26.2,0.04),(26.6,0.01),(27.0,0.03),(27.4,0.05),(27.8,0.02),(28.3,0.05),(28.8,0.02),(29.4,0.05),(30.0,0.06),(30.5,0.03),(31.0,0.04),(31.6,0.06),(32.0,0.05),(32.6,0.05),(33.0,0.06),(34.0,0.05),(34.6,0.06),(36.3,0.06),(37.2,0.06),(13.0,0.06),(14.2,0.09),(15.0,0.07),(16.6,0.06),(18.0,0.075),(19.4,0.06),(20.6,0.08),(10.0,0.05),(11.0,0.06),(8.5,0.06)]

cat_cumulative = [(1,-0.273),(2,-0.317),(3,-0.358),(4,-0.355),(5,-0.357),(6,-0.352),(7,-0.355),(8,-0.358),(9,-0.355),(10,-0.349),(12,-0.345),(14,-0.345),(15,-0.341),(17,-0.343),(18,-0.341),(20,-0.337),(22,-0.331),(23,-0.334),(25,-0.335),(27,-0.333),(28,-0.331),(30,-0.329),(31,-0.326),(33,-0.322),(35,-0.320),(36,-0.317),(38,-0.314),(40,-0.316),(41,-0.314),(43,-0.316),(44,-0.314),(46,-0.312),(48,-0.314),(49,-0.314),(51,-0.313),(52,-0.312),(54,-0.310),(56,-0.308),(57,-0.309),(59,-0.307),(61,-0.305),(62,-0.305),(64,-0.303),(66,-0.302),(67,-0.300),(69,-0.299),(70,-0.298),(72,-0.297),(74,-0.297),(75,-0.295),(77,-0.295),(78,-0.294),(80,-0.294),(82,-0.292),(83,-0.291),(85,-0.289),(86,-0.288),(88,-0.288),(90,-0.287),(91,-0.286),(93,-0.286),(95,-0.286),(96,-0.285),(98,-0.285),(100,-0.284),(101,-0.283),(103,-0.282),(104,-0.279),(105,-0.276),(106,-0.272),(108,-0.269),(109,-0.267),(111,-0.266),(113,-0.265),(114,-0.265),(116,-0.265),(117,-0.263),(119,-0.263),(121,-0.263),(122,-0.265),(124,-0.263),(125,-0.265),(127,-0.265),(129,-0.266),(130,-0.266),(132,-0.265),(134,-0.265),(135,-0.263),(137,-0.263),(138,-0.262),(140,-0.262),(142,-0.262),(143,-0.262),(145,-0.260),(147,-0.260),(148,-0.260),(150,-0.259),(151,-0.259),(153,-0.259),(155,-0.258),(156,-0.258),(158,-0.257),(160,-0.257),(161,-0.256),(163,-0.256),(164,-0.256),(166,-0.255),(168,-0.255),(169,-0.254),(171,-0.254),(172,-0.254),(174,-0.254),(176,-0.255),(177,-0.254),(179,-0.254),(181,-0.253),(182,-0.254),(184,-0.254),(185,-0.255),(187,-0.255),(189,-0.254),(190,-0.253),(192,-0.253),(194,-0.253),(195,-0.252),(197,-0.252),(198,-0.252),(200,-0.252)]

fold_cumulative = [(1,-0.226),(2,-0.229),(3,-0.232),(5,-0.233),(6,-0.249),(7,-0.267),(8,-0.272),(9,-0.277),(10,-0.277),(11,-0.292),(13,-0.300),(14,-0.303),(16,-0.304),(18,-0.303),(19,-0.297),(21,-0.296),(22,-0.300),(24,-0.303),(26,-0.304),(27,-0.303),(29,-0.301),(31,-0.303),(32,-0.308),(34,-0.309),(36,-0.308),(37,-0.309),(39,-0.310),(40,-0.309),(42,-0.311),(44,-0.313),(45,-0.314),(47,-0.314),(49,-0.317),(50,-0.318),(52,-0.320),(54,-0.321),(55,-0.320),(57,-0.318),(58,-0.316),(60,-0.313),(62,-0.310),(63,-0.308),(65,-0.306),(67,-0.305),(68,-0.304),(70,-0.304),(72,-0.306),(73,-0.308),(75,-0.309),(76,-0.310),(78,-0.311),(80,-0.313),(81,-0.313),(83,-0.312),(85,-0.312),(86,-0.313),(88,-0.311),(89,-0.309),(91,-0.309),(93,-0.309),(94,-0.309),(96,-0.309),(98,-0.310),(99,-0.309),(101,-0.306),(103,-0.301),(104,-0.300),(106,-0.301),(107,-0.300),(109,-0.301),(111,-0.301),(112,-0.303),(114,-0.303),(116,-0.304),(117,-0.306),(119,-0.306),(121,-0.304),(122,-0.303),(124,-0.299),(125,-0.297),(127,-0.299),(129,-0.299),(130,-0.297),(132,-0.297),(134,-0.299),(135,-0.299),(137,-0.299),(139,-0.298),(140,-0.298),(142,-0.299),(143,-0.298),(145,-0.299),(147,-0.299),(148,-0.298),(150,-0.297),(152,-0.298),(153,-0.299),(155,-0.298),(156,-0.297),(158,-0.298),(160,-0.300),(161,-0.301),(163,-0.303),(165,-0.304),(166,-0.303),(168,-0.299),(170,-0.295),(171,-0.294),(173,-0.295),(174,-0.296),(176,-0.295),(178,-0.294),(179,-0.292),(181,-0.292),(183,-0.293),(184,-0.293),(186,-0.292),(188,-0.291),(189,-0.289),(191,-0.289),(192,-0.290),(194,-0.290),(196,-0.289),(197,-0.288),(199,-0.289),(200,-0.288)]

RED, GREEN, TEAL, PURPLE = "#c9401b", "#5dd12b", "#2dbf9c", "#a95eb5"
W, H = 224, 66.5
YT = "Corr(Phen, 𝑆ᵢ)"
YT5 = "Corr(Phen, ⟨𝑆ᵢ⟩)"
XSEQ = "Sequence position, 𝑖"


def label(text, size, xpx, ypx, align):
    return alt.Chart(pd.DataFrame({"t": [text]})).mark_text(
        font="DejaVu Sans", fontSize=size, align=align, baseline="alphabetic",
        color="black").encode(text="t:N", x=alt.value(xpx), y=alt.value(ypx))


def panel(pairs, kind, color, xdom, ydom, xticks, yticks, yfmt, xtitle, ytitle,
          title=None, letter=None):
    df = pd.DataFrame(pairs, columns=["x", "y"])
    base = alt.Chart(df)
    if kind == "line":
        mark = base.mark_line(color=color, strokeWidth=1.8)
    else:
        mark = base.mark_circle(color=color, size=14, opacity=1)
    ch = mark.encode(
        x=alt.X("x:Q", scale=alt.Scale(domain=xdom, nice=False, zero=False),
                axis=alt.Axis(values=xticks, format="d", title=xtitle)),
        y=alt.Y("y:Q", scale=alt.Scale(domain=ydom, nice=False, zero=False),
                axis=alt.Axis(values=yticks, format=yfmt, title=ytitle)),
    )
    layers = [ch]
    if title:
        layers.append(label(title, 15, 0, -7, "left"))
    if letter:
        layers.append(label(letter, 18, -16, -9, "center"))
    if len(layers) > 1:
        ch = alt.layer(*layers)
    return ch.properties(width=W, height=H)


panels = [
    panel(mkate_seq, "line", RED, [-9.4, 241.5], [-0.796, 0.105], [0, 50, 100, 150, 200],
          [0, -0.5], ".1f", XSEQ, YT, "mKate2, Red", "A"),
    panel(mkate_dist, "pt", RED, [-1.7, 35.6], [-0.796, 0.105], [0, 10, 20, 30],
          [0, -0.5], ".1f", "Distance from Y65 / Å", YT),
    panel(gfp_seq, "line", GREEN, [-10.5, 239.5], [-0.685, -0.239], [0, 100, 200],
          [-0.25, -0.5], ".2f", XSEQ, YT, "GFP, Green"),
    panel(gfp_dist, "pt", GREEN, [-1.37, 28.8], [-0.685, -0.239], [0, 10, 20],
          [-0.25, -0.5], ".2f", "Distance from S64 / Å", YT),
    panel(pafa_cat_seq, "line", TEAL, [-24, 548], [-0.301, 0.080], [0, 200, 400],
          [0, -0.2], ".1f", XSEQ, YT, "PafA, Catalytic Effect"),
    panel(pafa_cat_dist, "pt", TEAL, [-0.26, 40.8], [-0.301, 0.080], [10, 20, 30, 40],
          [0, -0.2], ".1f", "Distance from nearest Zinc / Å", YT),
    panel(pafa_fold_seq, "line", PURPLE, [-24, 548], [-0.276, 0.114], [0, 200, 400],
          [0, -0.2], ".1f", XSEQ, YT, "PafA, Folding Effect"),
    panel(pafa_fold_dist, "pt", PURPLE, [-0.26, 40.8], [-0.276, 0.114], [10, 20, 30, 40],
          [0, -0.2], ".1f", "Distance from nearest Zinc / Å", YT),
    panel(cat_cumulative, "line", TEAL, [-9, 209], [-0.3634, -0.2453], [0, 50, 100, 150, 200],
          [-0.25, -0.30, -0.35], ".2f", "# residues included in correlation", YT5,
          "PafA, Catalytic Effect", "B"),
    panel(fold_cumulative, "line", PURPLE, [-9, 210], [-0.3248, -0.2226], [0, 50, 100, 150, 200],
          [-0.25, -0.30], ".2f", "# residues included in correlation", YT5,
          "PafA, Folding Effect"),
]

chart = alt.concat(*panels, columns=2, spacing=80, bounds="flush").properties(
    padding={"left": 13, "top": 12, "right": 0, "bottom": 0},
    background="white",
).configure_axis(
    domainColor="black", domainWidth=1, tickColor="black", tickWidth=1, tickSize=3.5,
    labelFont="DejaVu Serif", labelFontSize=12, labelColor="black",
    titleFont="DejaVu Sans", titleFontSize=12, titleFontWeight="normal", titleColor="black",
    grid=False,
).configure_axisX(labelPadding=7, titlePadding=9).configure_axisY(
    labelPadding=5, titlePadding=10
).configure_view(stroke=None)

chart.save("out.html", embed_options={"renderer": "svg", "actions": False})
